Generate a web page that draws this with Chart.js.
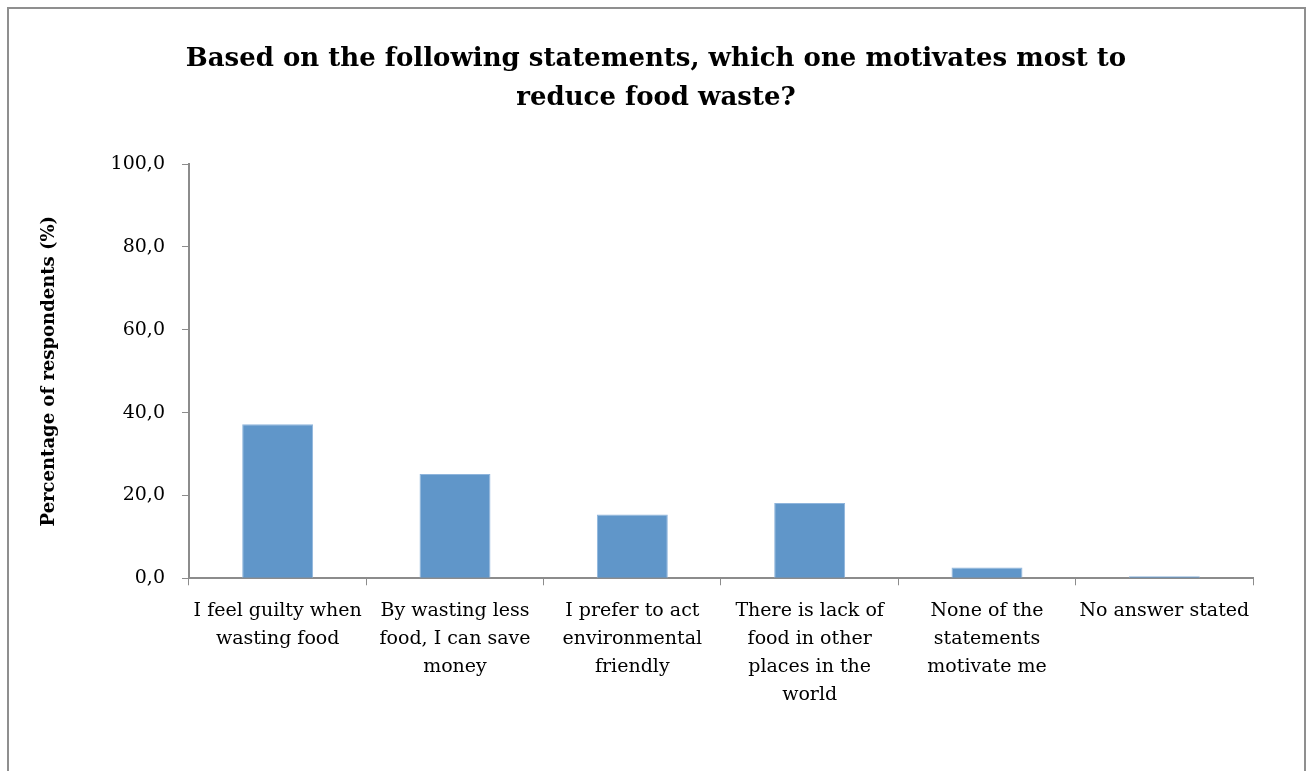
<!DOCTYPE html>
<html>
<head>
<meta charset="utf-8">
<script src="https://cdn.jsdelivr.net/npm/chart.js@4"></script>
<style>
  html, body { margin: 0; padding: 0; background: #fff; overflow: hidden; }
  #wrap { position: absolute; left: 0; top: 0; width: 1309px; height: 771px; }
</style>
</head>
<body>
<div id="wrap"><canvas id="myChart" width="1309" height="771"></canvas></div>
<script>
const statements = [
  ["I feel guilty when", "wasting food"],
  ["By wasting less", "food, I can save", "money"],
  ["I prefer to act", "environmental", "friendly"],
  ["There is lack of", "food in other", "places in the", "world"],
  ["None of the", "statements", "motivate me"],
  ["No answer stated"]
];
const percentages = [37.2, 25.2, 15.4, 18.2, 2.6, 0.5];
const yTicks = [0, 20, 40, 60, 80, 100];

const serif = "'DejaVu Serif', 'Liberation Serif', serif";
const axisGrey = '#8c8c8c';

// outer frame around the whole chart
const frame = {
  id: 'frame',
  beforeDraw(c) {
    const g = c.ctx;
    g.save();
    g.fillStyle = '#fff';
    g.fillRect(0, 0, c.width, c.height);
    g.strokeStyle = '#8f8f8f';
    g.lineWidth = 2;
    g.strokeRect(8, 8, 1297, 800);
    g.restore();
  }
};

window.onload = function() {
  var ctx = document.getElementById('myChart').getContext('2d');
  Chart.defaults.font.family = serif;
  Chart.defaults.color = '#000';
  new Chart(ctx, {
    type: 'bar',
    data: {
      labels: statements,
      datasets: [{
        data: percentages,
        backgroundColor: '#6096c9',
        borderColor: '#8fb5dc',
        borderWidth: 1,
        borderSkipped: 'bottom',
        categoryPercentage: 1,
        barPercentage: 0.4
      }]
    },
    options: {
      responsive: false,
      animation: false,
      layout: { padding: { left: 35, right: 32, top: 40, bottom: 50 } },
      plugins: {
        legend: { display: false },
        tooltip: { enabled: false },
        title: {
          display: true,
          text: ['Based on the following statements, which one motivates most to', 'reduce food waste?'],
          font: { size: 26, weight: 'bold', lineHeight: 1.5 },
          padding: { top: 0, bottom: 46 }
        }
      },
      scales: {
        x: {
          grid: { display: true, drawOnChartArea: false, color: axisGrey, tickLength: 7, offset: true },
          border: { color: axisGrey, width: 2, z: -1 },
          ticks: { font: { size: 19, lineHeight: 1.47 }, maxRotation: 0, autoSkip: false, padding: 12 }
        },
        y: {
          min: 0,
          max: 100,
          afterBuildTicks: s => { s.ticks = yTicks.map(v => ({ value: v })); },
          grid: { display: true, drawOnChartArea: false, color: axisGrey, tickLength: 7 },
          border: { color: axisGrey, width: 2 },
          ticks: {
            font: { size: 19 },
            padding: 17,
            callback: v => v.toFixed(1).replace('.', ',')
          },
          title: {
            display: true,
            text: 'Percentage of respondents (%)',
            font: { size: 18, weight: 'bold' },
            padding: { top: 4, bottom: 33 }
          }
        },
        // empty right-hand gutter so the title stays centred on the page
        y2: {
          position: 'right',
          grid: { display: false },
          border: { display: false },
          ticks: { display: false },
          afterFit: s => { s.width = 24; }
        }
      }
    },
    plugins: [frame]
  });
};
</script>
</body>
</html>
